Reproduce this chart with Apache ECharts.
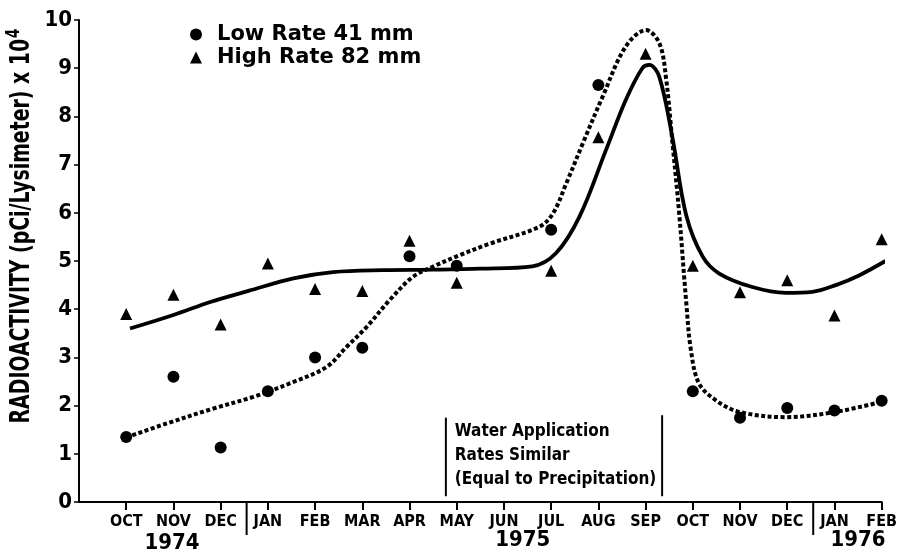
<!DOCTYPE html>
<html>
<head>
<meta charset="utf-8">
<title>Radioactivity per lysimeter, 1974-1976</title>
<script src="https://cdn.jsdelivr.net/npm/echarts@6/dist/echarts.min.js"></script>
<style>
  html, body { margin: 0; padding: 0; background: #fff; }
  #chart { width: 900px; height: 551px; }
</style>
</head>
<body>
<div id="chart"></div>
<script>
// Sampling months, Oct 1974 through Feb 1976 (axis position = array index)
const months = ['OCT', 'NOV', 'DEC', 'JAN', 'FEB', 'MAR', 'APR', 'MAY', 'JUN',
                'JUL', 'AUG', 'SEP', 'OCT', 'NOV', 'DEC', 'JAN', 'FEB'];
const monthIndex = months.map((_, i) => i);

// Measured radioactivity, pCi per lysimeter x 10^4 (null = no sample)
const lowRate  = [1.35, 2.60, 1.13, 2.30, 3.00, 3.20, 5.10, 4.90, null,
                  5.65, 8.65, 10.10, 2.30, 1.75, 1.95, 1.90, 2.10];
const highRate = [3.90, 4.30, 3.68, 4.95, 4.42, 4.38, 5.42, 4.55, null,
                  4.80, 7.57, 9.30, 4.90, 4.35, 4.60, 3.87, 5.45];

// Fitted trend curves (month position, value)
const lowFitX  = [0, 0.86, 1.85, 2.69, 3.54, 4.24, 4.67, 5.09, 5.58, 6.07, 6.49, 7.06,
                  7.70, 8.75, 9.04, 9.32, 9.67, 10.09, 10.58, 11.01, 11.29, 11.43, 11.57,
                  11.71, 11.86, 11.96, 12.13, 12.49, 12.98, 13.97, 15.03, 16.0];
const lowFitY  = [1.34, 1.63, 1.94, 2.18, 2.49, 2.80, 3.22, 3.63, 4.19, 4.67, 4.88, 5.12,
                  5.36, 5.71, 5.99, 6.61, 7.44, 8.41, 9.45, 9.79, 9.52, 8.82, 7.44,
                  6.00, 4.15, 3.15, 2.46, 2.11, 1.87, 1.76, 1.87, 2.08];
const highFitX = [0.08, 1.0, 1.78, 2.59, 3.54, 4.38, 5.44, 6.49, 7.5, 8.6, 9.1, 9.6,
                  10.16, 10.58, 10.93, 11.08, 11.29, 11.57, 11.86, 12.21, 12.56, 13.26,
                  13.97, 14.53, 15.03, 15.52, 16.08];
const highFitY = [3.60, 3.88, 4.15, 4.38, 4.64, 4.77, 4.81, 4.82, 4.84, 4.89, 5.16, 5.92,
                  7.30, 8.34, 9.00, 9.07, 8.82, 7.55, 5.95, 5.09, 4.74, 4.46,
                  4.34, 4.36, 4.50, 4.70, 5.00];

// Axis range and text
const yTicks = [0, 1, 2, 3, 4, 5, 6, 7, 8, 9, 10];
const years = ['1974', '1975', '1976'];
const noteLines = ['Water Application', 'Rates Similar', '(Equal to Precipitation)'];
const lowName = 'Low Rate 41 mm';
const highName = 'High Rate 82 mm';

const FONT = "'DejaVu Sans Condensed', 'DejaVu Sans', sans-serif";
const INK = '#000';

const toPairs = (xs, ys) => xs.map((x, i) => [x, ys[i]]);
const toPoints = vals => monthIndex.filter(i => vals[i] != null).map(i => [i, vals[i]]);

const chart = echarts.init(document.getElementById('chart'), null, { renderer: 'canvas' });

const option = {
  backgroundColor: '#fff',
  animation: false,
  grid: { left: 79, right: 17, top: 20, bottom: 49, containLabel: false },
  legend: {
    data: [lowName, highName],
    orient: 'vertical',
    left: 185,
    top: 18,
    itemWidth: 12,
    itemHeight: 12,
    itemGap: 0,
    textStyle: {
      color: INK, fontFamily: 'DejaVu Sans', fontWeight: 'bold', fontSize: 21,
      lineHeight: 23, padding: [0, 0, 0, 10]
    }
  },
  xAxis: {
    type: 'value',
    min: -1,
    max: monthIndex[monthIndex.length - 1],
    interval: 1,
    splitLine: { show: false },
    axisLine: { show: true, onZero: false, lineStyle: { color: INK, width: 2 } },
    axisTick: {
      show: true, inside: false, length: 8, customValues: monthIndex,
      lineStyle: { color: INK, width: 2 }
    },
    axisLabel: {
      customValues: monthIndex,
      formatter: v => months[v] || '',
      margin: 12,
      color: INK, fontFamily: FONT, fontWeight: 'bold', fontSize: 16
    }
  },
  yAxis: {
    type: 'value',
    min: yTicks[0],
    max: yTicks[yTicks.length - 1],
    interval: 1,
    splitLine: { show: false },
    axisLine: { show: true, onZero: false, lineStyle: { color: INK, width: 2 } },
    axisTick: { show: true, inside: false, length: 5, lineStyle: { color: INK, width: 1.5 } },
    axisLabel: {
      margin: 7,
      color: INK, fontFamily: FONT, fontWeight: 'bold', fontSize: 22
    }
  },
  series: [
    {
      name: 'high fit',
      type: 'line',
      data: toPairs(highFitX, highFitY),
      smooth: 0.35,
      symbol: 'none',
      lineStyle: { color: INK, width: 3.8 },
      z: 2
    },
    {
      name: 'low fit',
      type: 'line',
      data: toPairs(lowFitX, lowFitY),
      smooth: 0.35,
      symbol: 'none',
      lineStyle: { color: INK, width: 4, type: [4, 2.5], cap: 'butt' },
      z: 2
    },
    {
      name: lowName,
      type: 'scatter',
      data: toPoints(lowRate),
      symbol: 'circle',
      symbolSize: 12,
      itemStyle: { color: INK, opacity: 1 },
      z: 3
    },
    {
      name: highName,
      type: 'scatter',
      data: toPoints(highRate),
      symbol: 'triangle',
      symbolSize: 12,
      itemStyle: { color: INK, opacity: 1 },
      z: 3
    }
  ]
};

chart.setOption(option);

// Annotations placed through the chart's own coordinate system
const px = (x, y) => chart.convertToPixel({ gridIndex: 0 }, [x, y]);
const base = px(0, 0)[1];
const graphics = [];

// y-axis title with superscript exponent (glyphs stretched tall)
graphics.push({
  type: 'text',
  x: 22, y: 226,
  rotation: Math.PI / 2,
  scaleY: 1.3,
  style: {
    text: 'RADIOACTIVITY (pCi/Lysimeter) x 10{sup|4}',
    fill: INK,
    font: "bold 21px 'DejaVu Sans Condensed', 'DejaVu Sans', sans-serif",
    align: 'center',
    verticalAlign: 'middle',
    rich: {
      sup: { fontSize: 15, fontWeight: 'bold', fontFamily: FONT, fill: INK, padding: [0, 0, 13, 1] }
    }
  }
});

// year separators below the month axis
[2.55, 14.55].forEach(m => {
  const x = px(m, 0)[0];
  graphics.push({
    type: 'line',
    shape: { x1: x, y1: base, x2: x, y2: base + 33 },
    style: { stroke: INK, lineWidth: 2 }
  });
});

// year labels
[[years[0], 0.97, 41], [years[1], 8.4, 38], [years[2], 15.5, 38]].forEach(([t, m, dy]) => {
  graphics.push({
    type: 'text',
    x: px(m, 0)[0], y: base + dy,
    style: {
      text: t, fill: INK,
      font: "bold 22px 'DejaVu Sans Condensed', 'DejaVu Sans', sans-serif",
      align: 'center', verticalAlign: 'middle'
    }
  });
});

// bracket around the note on equal water application
[[6.77, 1.75], [11.35, 1.8]].forEach(([m, top]) => {
  const p0 = px(m, 0.12), p1 = px(m, top);
  graphics.push({
    type: 'line',
    shape: { x1: p0[0], y1: p0[1], x2: p1[0], y2: p1[1] },
    style: { stroke: INK, lineWidth: 2 }
  });
});
noteLines.forEach((t, i) => {
  const p = px(6.96, 1.47 - i * 0.5);
  graphics.push({
    type: 'text',
    x: p[0], y: p[1],
    style: {
      text: t, fill: INK,
      font: "bold 17px 'DejaVu Sans Condensed', 'DejaVu Sans', sans-serif",
      align: 'left', verticalAlign: 'middle'
    }
  });
});

chart.setOption({ graphic: graphics });
</script>
</body>
</html>
